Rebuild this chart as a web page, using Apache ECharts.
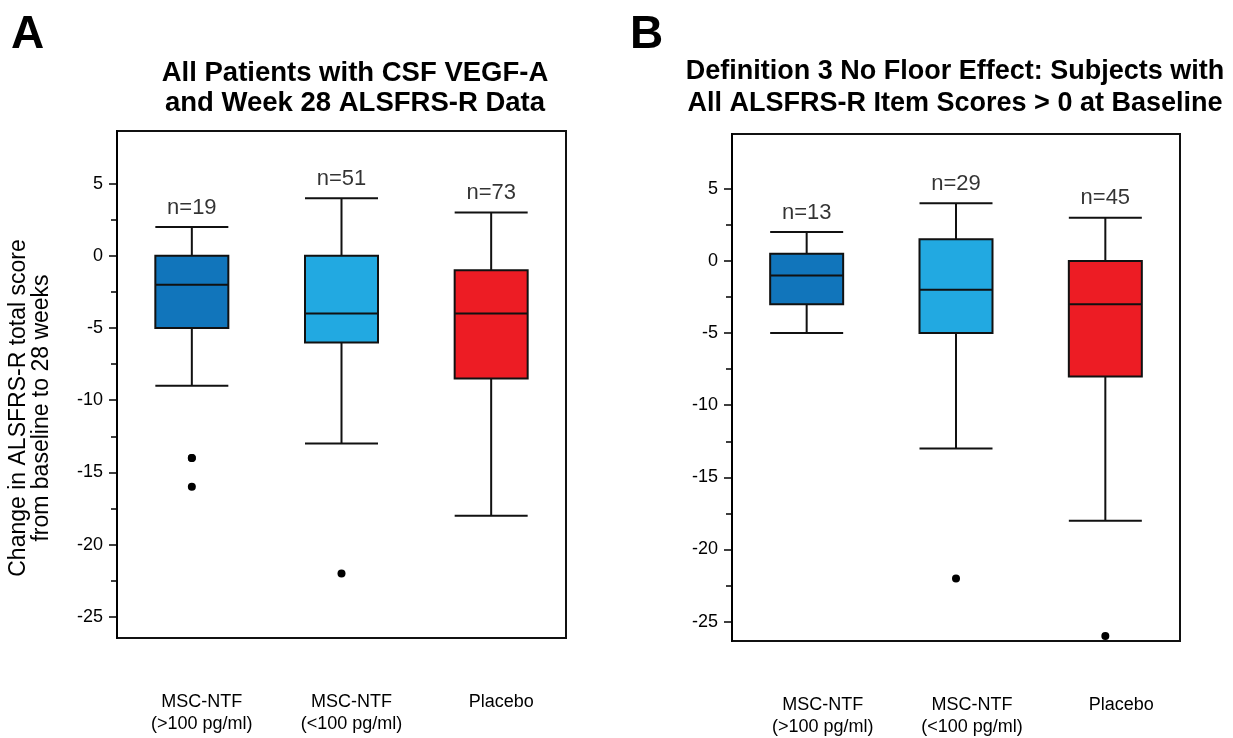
<!DOCTYPE html>
<html>
<head>
<meta charset="UTF-8">
<title>ALSFRS-R change box plots</title>
<script src="https://cdn.jsdelivr.net/npm/echarts@6/dist/echarts.min.js"></script>
</head>
<body style="margin:0;background:#fff">
<div id="main" style="width:1233px;height:738px"></div>
<script>
var categories = ['MSC-NTF\n(>100 pg/ml)', 'MSC-NTF\n(<100 pg/ml)', 'Placebo'];
// [lower whisker, Q1, median, Q3, upper whisker]
var boxesA = [[-9, -5, -2, 0, 2], [-13, -6, -4, 0, 4], [-18, -8.5, -4, -1, 3]];
var outliersA = [[0, -14], [0, -14], [0, -16], [1, -22]];
var countsA = ['n=19', 'n=51', 'n=73'];
var boxesB = [[-5, -3, -1, 0.5, 2], [-13, -5, -2, 1.5, 4], [-18, -8, -3, 0, 3]];
var outliersB = [[1, -22], [2, -26]];
var countsB = ['n=13', 'n=29', 'n=45'];
var majorTicks = [-25, -20, -15, -10, -5, 0, 5];
var minorTicks = [-22.5, -17.5, -12.5, -7.5, -2.5, 2.5];
var boxColors = ['#1175bb', '#22a9e1', '#ed1c24'];

var FONT = '"Liberation Sans", Arial, sans-serif';
var myChart = echarts.init(document.getElementById('main'));

function xAxisFor(g, shift) {
  return {
    type: 'category', gridIndex: g, data: categories,
    axisLine: { show: false }, axisTick: { show: false },
    axisLabel: { color: '#000', fontSize: 18, fontFamily: FONT, lineHeight: 22, margin: 53, padding: [0, 0, 0, shift] }
  };
}
function yAxesFor(g, mn, mx) {
  return [{
    type: 'value', gridIndex: g, position: 'left', min: mn, max: mx, splitLine: { show: false },
    axisLine: { show: true, lineStyle: { color: '#000', width: 2 } },
    axisTick: { show: true, length: 8, lineStyle: { color: '#000', width: 1.5 }, customValues: majorTicks },
    axisLabel: { color: '#000', fontSize: 18, fontFamily: FONT, margin: 14, customValues: majorTicks }
  }, {
    // minor ticks
    type: 'value', gridIndex: g, position: 'left', offset: 0, min: mn, max: mx, splitLine: { show: false },
    axisLine: { show: false },
    axisTick: { show: true, length: 6, lineStyle: { color: '#000', width: 1.5 }, customValues: minorTicks },
    axisLabel: { show: false }
  }];
}
function seriesFor(g, boxes, outliers, counts) {
  return [{
    type: 'boxplot', xAxisIndex: g, yAxisIndex: g * 2,
    boxWidth: [73, 73],
    data: boxes.map(function (b, i) {
      return { value: b, itemStyle: { color: boxColors[i], borderColor: '#111', borderWidth: 2 } };
    })
  }, {
    type: 'scatter', xAxisIndex: g, yAxisIndex: g * 2,
    symbolSize: 8, itemStyle: { color: '#000', opacity: 1 },
    data: outliers
  }, {
    type: 'scatter', xAxisIndex: g, yAxisIndex: g * 2,
    symbolSize: 1, itemStyle: { color: 'transparent' }, silent: true,
    data: boxes.map(function (b, i) { return [i, b[4]]; }),
    label: {
      show: true, position: 'top', distance: 8, color: '#000', fontSize: 22, fontFamily: FONT,
      formatter: function (p) { return counts[p.dataIndex]; }
    }
  }];
}

var option = {
  animation: false,
  title: [{
    text: 'All Patients with CSF VEGF-A\nand Week 28 ALSFRS-R Data',
    left: 350, top: 53, textAlign: 'center',
    textStyle: { fontSize: 27.5, fontWeight: 'bold', fontFamily: FONT, color: '#000', lineHeight: 30 }
  }, {
    text: 'Definition 3 No Floor Effect: Subjects with\nAll ALSFRS-R Item Scores > 0 at Baseline',
    left: 950, top: 51, textAlign: 'center',
    textStyle: { fontSize: 27, fontWeight: 'bold', fontFamily: FONT, color: '#000', lineHeight: 32 }
  }],
  graphic: [
    { type: 'text', left: 11, top: 12, style: { text: 'A', fontSize: 46, fontWeight: 'bold', fontFamily: FONT, fill: '#000' } },
    { type: 'text', left: 630, top: 12, style: { text: 'B', fontSize: 46, fontWeight: 'bold', fontFamily: FONT, fill: '#000' } },
    {
      type: 'text', x: 30, y: 408, rotation: Math.PI / 2,
      style: {
        text: 'Change in ALSFRS-R total score\nfrom baseline to 28 weeks', align: 'center', verticalAlign: 'middle',
        fontSize: 23, lineHeight: 23, fontFamily: FONT, fill: '#000'
      }
    }
  ],
  grid: [
    { left: 117, top: 131, width: 449, height: 507, show: true, borderColor: '#111', borderWidth: 2 },
    { left: 732, top: 134, width: 448, height: 507, show: true, borderColor: '#111', borderWidth: 2 }
  ],
  xAxis: [xAxisFor(0, 20), xAxisFor(1, 32)],
  yAxis: yAxesFor(0, -26.47, 8.65).concat(yAxesFor(1, -26.34, 8.8)),
  series: seriesFor(0, boxesA, outliersA, countsA).concat(seriesFor(1, boxesB, outliersB, countsB))
};
myChart.setOption(option);
</script>
</body>
</html>
